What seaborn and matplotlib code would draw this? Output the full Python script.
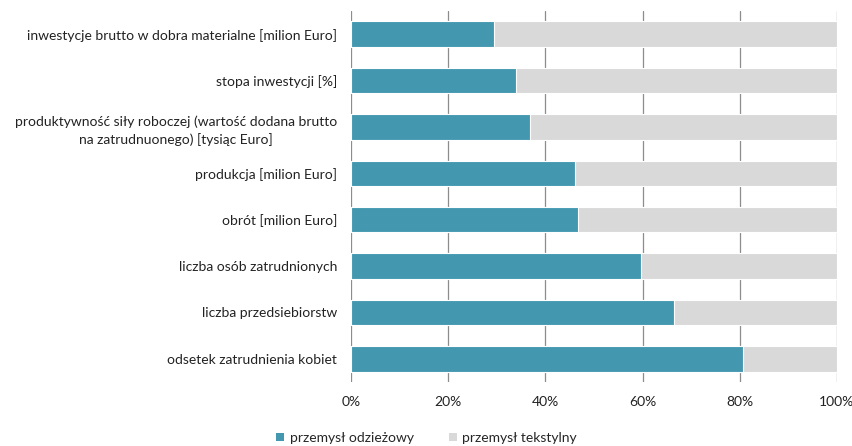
import matplotlib
matplotlib.use("Agg")
import matplotlib.pyplot as plt
import seaborn as sns
import pandas as pd
from matplotlib.patches import Patch
from matplotlib.ticker import PercentFormatter

categories = [
    "inwestycje brutto w dobra materialne [milion Euro]",
    "stopa inwestycji [%]",
    "produktywność siły roboczej (wartość dodana brutto\nna zatrudnuonego) [tysiąc Euro]",
    "produkcja [milion Euro]",
    "obrót [milion Euro]",
    "liczba osób zatrudnionych",
    "liczba przedsiebiorstw",
    "odsetek zatrudnienia kobiet",
]
odziezowy = [29.4, 33.9, 36.8, 46.1, 46.8, 59.6, 66.5, 80.6]
tekstylny = [100 - v for v in odziezowy]
xticks = [0, 20, 40, 60, 80, 100]

teal = "#4398B0"
grey = "#D9D9D9"

sns.set_theme(style="white")
plt.rcParams["font.family"] = ["Lato", "DejaVu Sans"]

df = pd.DataFrame({"kategoria": categories,
                   "odziezowy": odziezowy,
                   "tekstylny": tekstylny})
df["razem"] = df["odziezowy"] + df["tekstylny"]

fig = plt.figure(figsize=(8.53, 4.46), dpi=100)
ax = fig.add_axes([0.4115, 0.1435, 0.5697, 0.8318])

sns.barplot(data=df, x="razem", y="kategoria", color=grey, width=0.55,
            edgecolor="white", linewidth=0.8, saturation=1, ax=ax, zorder=2)
sns.barplot(data=df, x="odziezowy", y="kategoria", color=teal, width=0.55,
            edgecolor="white", linewidth=0.8, saturation=1, ax=ax, zorder=3)

ax.set_xlim(0, 100)
ax.set_ylim(len(categories) - 0.5, -0.5)
ax.set_xticks(xticks)
ax.xaxis.set_major_formatter(PercentFormatter(decimals=0))
ax.grid(axis="x", color="#8C8C8C", linewidth=0.9, zorder=0)
ax.set_axisbelow(True)
for s in ax.spines.values():
    s.set_visible(False)
ax.set_xlabel("")
ax.set_ylabel("")
ax.tick_params(axis="both", length=0, labelsize=10, colors="#222222")
ax.tick_params(axis="y", pad=10)
ax.tick_params(axis="x", pad=10)
for lab in ax.get_yticklabels():
    lab.set_multialignment("center")
    lab.set_linespacing(1.45)

handles = [Patch(facecolor=teal, edgecolor="none"),
           Patch(facecolor=grey, edgecolor="none")]
fig.legend(handles, ["przemysł odzieżowy", "przemysł tekstylny"],
           loc="center", bbox_to_anchor=(0.5, 0.018), ncol=2, frameon=False,
           fontsize=10, handlelength=0.6, handleheight=0.6,
           handletextpad=0.4, columnspacing=2.5)

fig.savefig("out.png", dpi=100)
